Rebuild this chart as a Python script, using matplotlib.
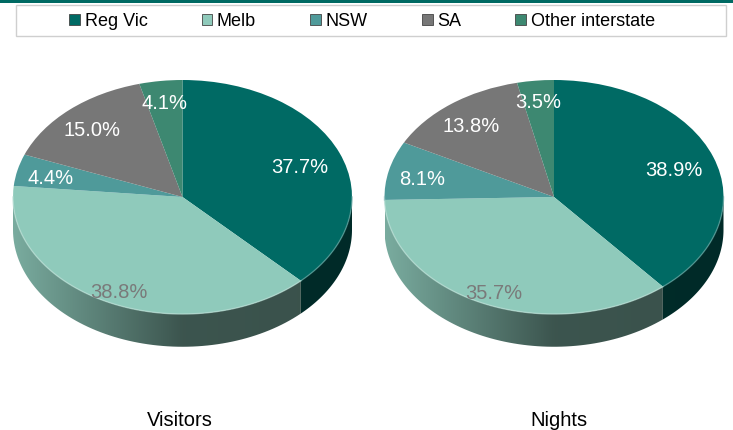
import numpy as np
import matplotlib
matplotlib.use('Agg')
import matplotlib.pyplot as plt
from matplotlib.patches import Patch, Rectangle, Polygon
from matplotlib.colors import to_rgb

plt.rcParams['font.family'] = ['Liberation Sans', 'DejaVu Sans']

categories = ['Reg Vic', 'Melb', 'NSW', 'SA', 'Other interstate']
visitors = [37.7, 38.8, 4.4, 15.0, 4.1]
nights = [38.9, 35.7, 8.1, 13.8, 3.5]
titles = ['Visitors', 'Nights']
colors = ['#006a64', '#8fcabb', '#4f9a9a', '#777777', '#3d8871']
label_colors = ['white', '#7a7a7a', 'white', 'white', 'white']
label_r = [0.75, 0.87, 0.8, 0.8, 0.84]

W, H = 733, 430
fig = plt.figure(figsize=(W / 100, H / 100), dpi=100)


def fx(px):
    return px / W


def fy(py):
    return 1 - py / H


# green rule on top + legend frame
fig.add_artist(Rectangle((0, fy(2.5)), 1, 2.5 / H, transform=fig.transFigure,
                         color='#006a63', lw=0))
fig.add_artist(Rectangle((fx(16), fy(36)), fx(710), 31 / H, transform=fig.transFigure,
                         fill=False, ec='#cfcfcf', lw=1))

handles = [Patch(facecolor=c, edgecolor='#444444', lw=0.6) for c in colors]
fig.legend(handles, categories, loc='center', bbox_to_anchor=(fx(362), fy(21.5)),
           ncol=5, frameon=False, fontsize=13, handlelength=0.6, handleheight=0.6,
           handletextpad=0.25, columnspacing=3.0, borderpad=0)

rx, ry, depth = 169.5, 117, 0.28
centers = [(182.5, 197), (554, 197)]
title_x = [180, 559]


def draw_side(ax, a, b, color):
    base = np.array(to_rgb(color))
    for k in (-1, 0, 1):
        lo = max(a, 180 + 360 * k)
        hi = min(b, 360 + 360 * k)
        if hi <= lo:
            continue
        t = np.radians(np.linspace(lo, hi, 80))
        top = np.column_stack([np.cos(t), np.sin(t)])
        bot = np.column_stack([np.cos(t[::-1]), np.sin(t[::-1]) - depth])
        poly = Polygon(np.vstack([top, bot]), closed=True, fc='none', ec='none')
        ax.add_patch(poly)
        xs = np.linspace(-1, 1, 200)
        shade = np.interp(xs, [-1, 0, 1], [0.85, 0.42, 0.4])
        img = np.clip(base[None, None, :] * shade[None, :, None], 0, 1)
        im = ax.imshow(img, extent=(-1, 1, -1 - depth, 0), aspect='auto',
                       zorder=1, interpolation='bilinear')
        im.set_clip_path(poly)
        rim = base + (1 - base) * 0.35
        ax.plot(top[:, 0], top[:, 1], color=rim, lw=1, zorder=4, alpha=0.7)


for vals, title, (cx, cy), tx in zip([visitors, nights], titles, centers, title_x):
    ax = fig.add_axes([fx(cx - 1.05 * rx), (H - cy - 1.4 * ry) / H,
                       2.1 * rx / W, 2.5 * ry / H])
    wedges, texts, autotexts = ax.pie(
        vals, colors=colors, startangle=90, counterclock=False,
        autopct='%.1f%%', pctdistance=0.8,
        wedgeprops=dict(linewidth=0, zorder=3), textprops=dict(fontsize=14.5))
    for w, t, c, r in zip(wedges, autotexts, label_colors, label_r):
        mid = np.radians((w.theta1 + w.theta2) / 2)
        t.set_position((r * np.cos(mid), r * np.sin(mid) - 0.03))
        t.set_color(c)
        t.set_zorder(5)
    for w, c in zip(wedges, colors):
        draw_side(ax, w.theta1, w.theta2, c)
    ax.set_aspect('auto')
    ax.set_xlim(-1.05, 1.05)
    ax.set_ylim(-1.4, 1.1)
    ax.axis('off')
    fig.text(fx(tx), fy(420), title, ha='center', va='center', fontsize=14.5,
             color='black')

fig.savefig('out.png', dpi=100)
